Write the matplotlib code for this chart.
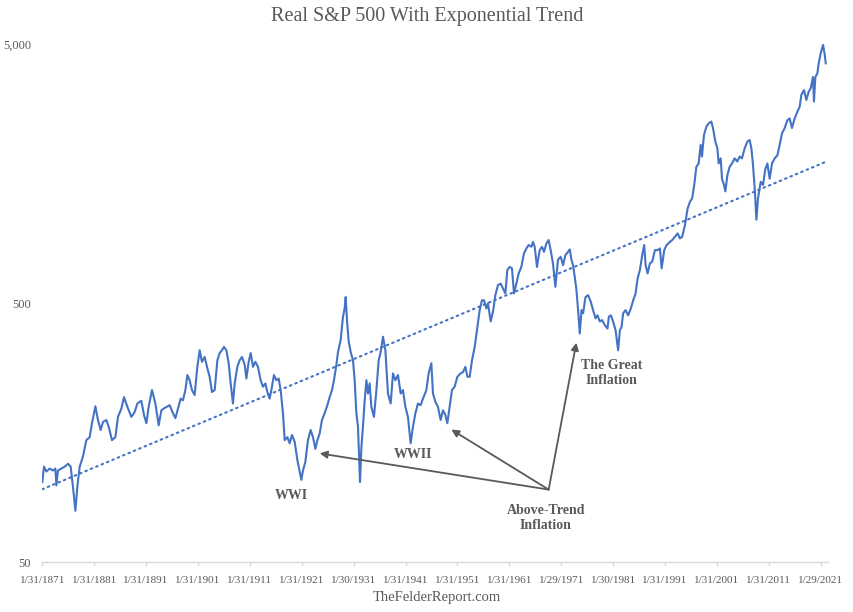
import matplotlib
matplotlib.use("Agg")
import matplotlib.pyplot as plt
import matplotlib.ticker as mticker

# real S&P 500 (inflation-adjusted)
years = [
    1871.08, 1871.41, 1871.87, 1872.51, 1873.14, 1873.60, 1873.80, 1874.10, 1874.76, 1875.40,
    1876.03, 1876.55, 1876.99, 1877.46, 1877.84, 1878.29, 1878.92, 1879.57, 1880.21, 1880.66,
    1881.31, 1881.81, 1882.33, 1882.78, 1883.43, 1883.87, 1884.51, 1885.16, 1885.67, 1886.32,
    1886.82, 1887.48, 1888.25, 1888.88, 1889.40, 1890.17, 1890.68, 1891.14, 1891.58, 1892.22,
    1892.87, 1893.51, 1894.03, 1894.66,
    1895.63, 1896.26, 1896.73, 1897.23, 1897.75, 1898.19, 1898.65, 1899.04, 1899.48, 1899.92,
    1900.44, 1900.96, 1901.41, 1901.85, 1902.37, 1902.89, 1903.33, 1903.78, 1904.30, 1904.82,
    1905.26, 1905.70, 1906.09, 1906.55, 1907.00, 1907.38, 1907.82, 1908.15, 1908.67, 1909.11,
    1909.56, 1910.08, 1910.41, 1910.85, 1911.24, 1911.68, 1912.14, 1912.64, 1913.16, 1913.60,
    1914.07, 1914.45, 1914.89, 1915.22, 1915.72, 1916.19, 1916.63, 1917.01, 1917.46, 1917.79,
    1918.31, 1918.75, 1919.19, 1919.71,
    1920.23, 1920.68, 1921.00, 1921.31, 1921.77, 1922.27, 1922.79, 1923.24, 1923.70, 1924.09,
    1924.53, 1924.97, 1925.49, 1926.01, 1926.46, 1926.90, 1927.28, 1927.75, 1928.06, 1928.57,
    1929.02, 1929.34, 1929.54, 1929.79, 1930.12, 1930.50, 1930.95, 1931.27, 1931.60, 1931.91,
    1932.30, 1932.57, 1932.87, 1933.20, 1933.53, 1933.84, 1934.16, 1934.49, 1934.99, 1935.46,
    1935.90, 1936.28, 1936.73, 1937.19, 1937.69, 1938.21, 1938.66, 1939.12, 1939.62, 1940.14,
    1940.58, 1941.04, 1941.54, 1942.06, 1942.51, 1942.97, 1943.47, 1943.99, 1944.43, 1945.09,
    1945.53, 1946.05, 1946.36, 1946.82, 1947.32, 1947.84, 1948.29, 1948.75, 1949.13, 1949.58,
    1950.02, 1950.54, 1951.06, 1951.70, 1952.14, 1952.60, 1952.99, 1953.43, 1953.88, 1954.40,
    1954.92, 1955.36, 1955.80, 1956.19, 1956.65, 1956.96, 1957.48, 1957.92, 1958.38, 1958.88,
    1959.40, 1959.85, 1960.31, 1960.69, 1961.14, 1961.58, 1961.97, 1962.43, 1962.87, 1963.39,
    1963.89, 1964.36, 1964.80, 1965.32, 1965.63, 1965.96, 1966.40, 1966.92, 1967.36, 1967.75,
    1968.21, 1968.65, 1969.04, 1969.48, 1969.95,
    1970.45, 1970.97, 1971.42, 1971.88, 1972.39, 1972.72, 1973.04, 1973.35, 1973.68, 1974.01,
    1974.32, 1974.65, 1974.98, 1975.29, 1975.75, 1976.25, 1976.77, 1977.21, 1977.68, 1978.06,
    1978.50, 1978.95, 1979.47, 1979.99, 1980.24, 1980.63, 1981.07, 1981.54, 1982.04, 1982.37,
    1982.70, 1983.00, 1983.47, 1983.97, 1984.49, 1984.94, 1985.40, 1985.79, 1986.23, 1986.68,
    1987.06, 1987.33, 1987.72, 1988.16, 1988.61, 1989.13, 1989.65, 1990.09, 1990.42, 1990.92,
    1991.38, 1992.02, 1992.46, 1992.98, 1993.50, 1993.94, 1994.39, 1994.91,
    1995.43, 1995.87, 1996.31, 1996.70, 1997.11, 1997.55, 1997.94, 1998.19, 1998.58, 1999.04,
    1999.48, 1999.99, 2000.31, 2000.77, 2001.16, 2001.41, 2001.80, 2002.05, 2002.43, 2002.70,
    2003.09, 2003.53, 2003.97, 2004.49, 2005.01, 2005.45, 2005.90, 2006.42, 2006.94, 2007.38,
    2007.71, 2008.02, 2008.35, 2008.68, 2008.99, 2009.51, 2009.95, 2010.41, 2010.79, 2011.24,
    2011.68, 2012.20, 2012.72, 2013.16, 2013.61, 2014.13, 2014.64, 2015.09, 2015.53, 2016.05,
    2016.57, 2017.01, 2017.34, 2017.84, 2018.30, 2018.75, 2019.13, 2019.58, 2019.77, 2020.04,
    2020.43, 2020.68, 2021.07, 2021.52, 2021.85, 2022.04,
]

real_sp500 = [
    102, 117, 112, 115, 113, 115, 99, 113, 115, 117,
    120, 117, 98, 79, 98, 117, 128, 148, 152, 172,
    200, 177, 162, 174, 177, 167, 148, 152, 182, 196,
    217, 199, 182, 190, 205, 210, 185, 172, 199, 231,
    205, 169, 193, 197,
    202, 188, 180, 196, 214, 211, 231, 264, 252, 231,
    221, 284, 329, 297, 310, 280, 260, 227, 231, 301,
    321, 329, 339, 329, 293, 245, 205, 245, 284, 301,
    310, 289, 256, 297, 321, 284, 297, 284, 252, 238,
    245, 227, 214, 231, 264, 252, 256, 231, 188, 148,
    152, 144, 155, 146,
    124, 112, 104, 113, 122, 148, 162, 152, 137, 148,
    157, 177, 188, 202, 217, 231, 252, 289, 324, 360,
    443, 477, 528, 430, 356, 324, 301, 252, 188, 167,
    102, 139, 167, 211, 252, 224, 245, 199, 182, 231,
    301, 324, 371, 329, 224, 205, 268, 252, 264, 224,
    231, 199, 182, 144, 167, 188, 205, 202, 214, 231,
    268, 293, 224, 208, 199, 177, 193, 185, 172, 199,
    231, 238, 260, 268, 271, 284, 260, 260, 301, 339,
    405, 470, 513, 513, 477, 500, 425, 463, 537, 587,
    595, 570, 545, 671, 690, 681, 545, 595, 651, 690,
    778, 813, 838, 825, 862, 825, 690, 801, 825, 789,
    850, 876, 801, 712, 578,
    735, 755, 701, 766, 789, 806, 735, 701, 632, 561,
    470, 382, 470, 457, 528, 537, 506, 470, 437, 449,
    425, 430, 411, 399, 443, 449, 425, 393, 329, 393,
    405, 457, 470, 449, 477, 513, 545, 623, 671, 766,
    838, 701, 651, 712, 723, 801, 801, 813, 681, 801,
    838, 862, 876, 902, 929, 889, 902, 1000,
    1160, 1230, 1270, 1430, 1680, 1730, 2040, 1840, 2230, 2400,
    2470, 2510, 2370, 2100, 1980, 1730, 1810, 1510, 1430, 1350,
    1560, 1680, 1730, 1810, 1760, 1840, 1810, 1980, 2100, 2130,
    1980, 1710, 1390, 1050, 1270, 1470, 1430, 1650, 1730, 1510,
    1730, 1810, 1860, 2040, 2260, 2370, 2540, 2580, 2370, 2580,
    2740, 2860, 3180, 3320, 3040, 3270, 3370, 3730, 3000, 3730,
    3850, 4210, 4610, 4960, 4540, 4210,
]

# exponential trend: value at first and last date
trend_years = [1871.08, 2022.04]
trend_values = [95.7, 1755]

tick_years = [1871.08 + 10 * i for i in range(16)]
tick_labels = ["1/31/1871", "1/31/1881", "1/31/1891", "1/31/1901", "1/31/1911",
               "1/31/1921", "1/30/1931", "1/31/1941", "1/31/1951", "1/31/1961",
               "1/29/1971", "1/30/1981", "1/31/1991", "1/31/2001", "1/31/2011",
               "1/29/2021"]
y_ticks = [50, 500, 5000]

plt.rcParams["font.family"] = ["Liberation Serif", "DejaVu Serif"]
GRAY = "#595959"
BLUE = "#4472C4"

fig = plt.figure(figsize=(8.54, 6.12), dpi=100)
ax = fig.add_axes([0.0495, 0.0812, 0.9196, 0.8469])

ax.plot(years, real_sp500, color=BLUE, linewidth=1.5, solid_joinstyle="round")
ax.plot(trend_years, trend_values, color=BLUE, linewidth=1.5,
        linestyle=(0, (0.8, 2.0)), dash_capstyle="round")

ax.set_yscale("log")
ax.set_ylim(50, 5000)
ax.set_xlim(1871.08, 2022.4)
ax.set_yticks(y_ticks)
ax.yaxis.set_major_formatter(mticker.FuncFormatter(lambda v, p: f"{v:,.0f}"))
ax.yaxis.set_minor_locator(mticker.NullLocator())
ax.set_xticks(tick_years)
ax.set_xticklabels(tick_labels)

for side in ["left", "right", "top"]:
    ax.spines[side].set_visible(False)
ax.spines["bottom"].set_color("#D9D9D9")
ax.spines["bottom"].set_linewidth(1.0)
ax.tick_params(axis="x", direction="out", length=3, width=1.0, color="#D9D9D9",
               labelsize=8, labelcolor=GRAY, pad=6.5)
ax.tick_params(axis="y", length=0, labelsize=9, labelcolor=GRAY, pad=8)

# annotations
base = (1968.65, 95.4)
for tip in [(1924.53, 131.6), (1949.90, 162.6), (1973.99, 352)]:
    ax.annotate("", xy=tip, xytext=base,
                arrowprops=dict(arrowstyle="-|>", color=GRAY, lw=1.3,
                                mutation_scale=11, shrinkA=0, shrinkB=0))

label_style = dict(color=GRAY, fontsize=10, fontweight="bold", ha="center",
                   va="center", linespacing=1.2)
ax.text(1919.13, 90.7, "WWI", **label_style)
ax.text(1942.45, 130.6, "WWII", **label_style)
ax.text(1980.79, 269, "The Great\nInflation", **label_style)
ax.text(1968.08, 74.3, "Above-Trend\nInflation", **label_style)

fig.text(0.5, 1 - 17 / 612, "Real S&P 500 With Exponential Trend", ha="center",
         va="center", fontsize=14.5, color=GRAY)
fig.text(437 / 854, 15 / 612, "TheFelderReport.com", ha="center", va="center",
         fontsize=10.5, color=GRAY)

fig.savefig("out.png", dpi=100)
